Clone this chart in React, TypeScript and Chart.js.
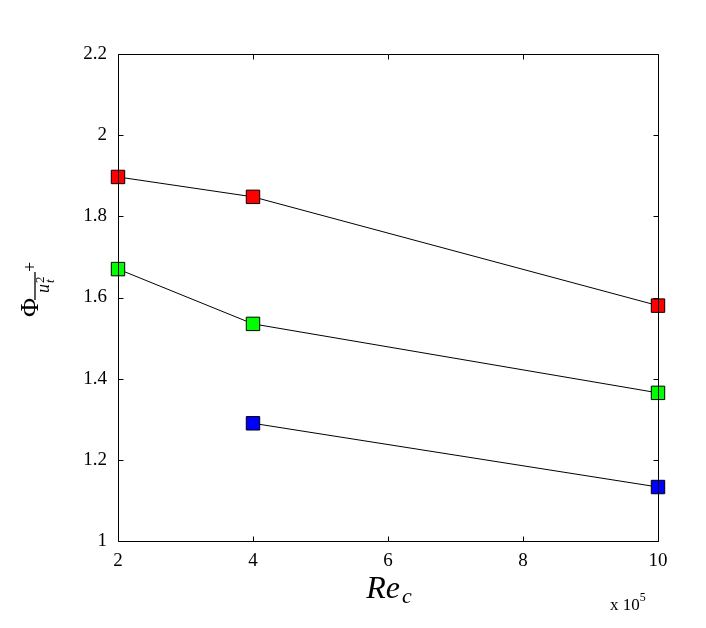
import React, { useEffect, useRef } from "react";
import { Chart, registerables } from "chart.js";

Chart.register(...registerables);

const xValues = [2, 4, 10];
const redValues = [1.897, 1.848, 1.58];
const greenValues = [1.67, 1.535, 1.365];
const blueX = [4, 10];
const blueValues = [1.29, 1.133];
const xTicks = [2, 4, 6, 8, 10];
const yTicks = [1, 1.2, 1.4, 1.6, 1.8, 2, 2.2];

const SERIF = '"Liberation Serif", "DejaVu Serif", serif';

const framePlugin = {
  id: "frameAndLabels",
  afterDraw(chart: any) {
    const ctx = chart.ctx as CanvasRenderingContext2D;
    const { left, right, top, bottom } = chart.chartArea;
    const xs = chart.scales.x;
    const ys = chart.scales.y;
    ctx.save();
    ctx.strokeStyle = "#000";
    ctx.lineWidth = 1;
    const L = Math.round(left) + 0.5;
    const R = Math.round(right) + 0.5;
    const T = Math.round(top) + 0.5;
    const B = Math.round(bottom) + 0.5;
    ctx.beginPath();
    ctx.rect(L, T, R - L, B - T);
    ctx.stroke();
    const tl = 5;
    ctx.beginPath();
    xTicks.forEach((v) => {
      const px = Math.round(xs.getPixelForValue(v)) + 0.5;
      ctx.moveTo(px, B);
      ctx.lineTo(px, B - tl);
      ctx.moveTo(px, T);
      ctx.lineTo(px, T + tl);
    });
    yTicks.forEach((v) => {
      const py = Math.round(ys.getPixelForValue(v)) + 0.5;
      ctx.moveTo(L, py);
      ctx.lineTo(L + tl, py);
      ctx.moveTo(R, py);
      ctx.lineTo(R - tl, py);
    });
    ctx.stroke();

    // x title: Re_c
    ctx.fillStyle = "#000";
    ctx.textBaseline = "alphabetic";
    ctx.textAlign = "left";
    ctx.font = `italic 32px ${SERIF}`;
    const reW = ctx.measureText("Re").width;
    ctx.font = `italic 22px ${SERIF}`;
    const cW = ctx.measureText("c").width;
    const cx = (left + right) / 2;
    const startX = cx - (reW + cW) / 2;
    ctx.font = `italic 32px ${SERIF}`;
    ctx.fillText("Re", startX, 598);
    ctx.font = `italic 22px ${SERIF}`;
    ctx.fillText("c", startX + reW + 2, 603);

    // x 10^5
    ctx.font = `17px ${SERIF}`;
    ctx.fillText("x 10", 610, 610);
    const w10 = ctx.measureText("x 10").width;
    ctx.font = `12px ${SERIF}`;
    ctx.fillText("5", 610 + w10, 601);

    // y title: Phi with overline u_t^2 +
    ctx.save();
    ctx.translate(38, 317);
    ctx.rotate(-Math.PI / 2);
    ctx.font = `26px ${SERIF}`;
    ctx.fillText("\u03A6", 0, 0);
    ctx.lineWidth = 1.3;
    ctx.beginPath();
    ctx.moveTo(17, -3);
    ctx.lineTo(45, -3);
    ctx.stroke();
    ctx.font = `italic 18px ${SERIF}`;
    ctx.fillText("u", 24, 11);
    ctx.font = `italic 13px ${SERIF}`;
    ctx.fillText("t", 34, 16);
    ctx.font = `13px ${SERIF}`;
    ctx.fillText("2", 34, 6);
    ctx.font = `18px ${SERIF}`;
    ctx.fillText("+", 45, -2);
    ctx.restore();

    ctx.restore();
  },
};

export default function App() {
  const ref = useRef<HTMLCanvasElement | null>(null);
  useEffect(() => {
    if (!ref.current) return;
    const mk = (xs: number[], ys: number[], color: string) => ({
      data: xs.map((x, i) => ({ x, y: ys[i] })),
      borderColor: "#000",
      borderWidth: 1,
      backgroundColor: color,
      pointBackgroundColor: color,
      pointBorderColor: "#000",
      pointBorderWidth: 1,
      pointStyle: "rect" as const,
      pointRadius: 9.5,
      tension: 0,
      fill: false,
      clip: false as const,
    });
    const chart = new Chart(ref.current, {
      type: "line",
      data: {
        datasets: [
          mk(xValues, redValues, "#ff0000"),
          mk(xValues, greenValues, "#00ff00"),
          mk(blueX, blueValues, "#0000ff"),
        ],
      },
      options: {
        animation: false,
        responsive: false,
        maintainAspectRatio: false,
        layout: { padding: { top: 54, right: 48, left: 0, bottom: 0 } },
        plugins: { legend: { display: false }, tooltip: { enabled: false } },
        scales: {
          x: {
            type: "linear",
            min: 2,
            max: 10,
            afterFit: (s: any) => {
              s.height = 87;
            },
            afterBuildTicks: (s: any) => {
              s.ticks = xTicks.map((v) => ({ value: v }));
            },
            grid: { display: false, drawTicks: false },
            border: { display: false },
            ticks: {
              padding: 9,
              color: "#000",
              font: { family: SERIF, size: 19 },
              callback: (v: any) => String(v),
            },
          },
          y: {
            type: "linear",
            min: 1,
            max: 2.2,
            afterFit: (s: any) => {
              s.width = 118;
            },
            afterBuildTicks: (s: any) => {
              s.ticks = yTicks.map((v) => ({ value: v }));
            },
            grid: { display: false, drawTicks: false },
            border: { display: false },
            ticks: {
              padding: 11,
              color: "#000",
              font: { family: SERIF, size: 19 },
              callback: (v: any) => String(Math.round(Number(v) * 10) / 10),
            },
          },
        },
      },
      plugins: [framePlugin],
    });
    return () => chart.destroy();
  }, []);
  return (
    <div style={{ position: "absolute", left: 0, top: 0, width: 706, height: 628, background: "#fff" }}>
      <canvas ref={ref} width={706} height={628} style={{ width: 706, height: 628 }} />
    </div>
  );
}
